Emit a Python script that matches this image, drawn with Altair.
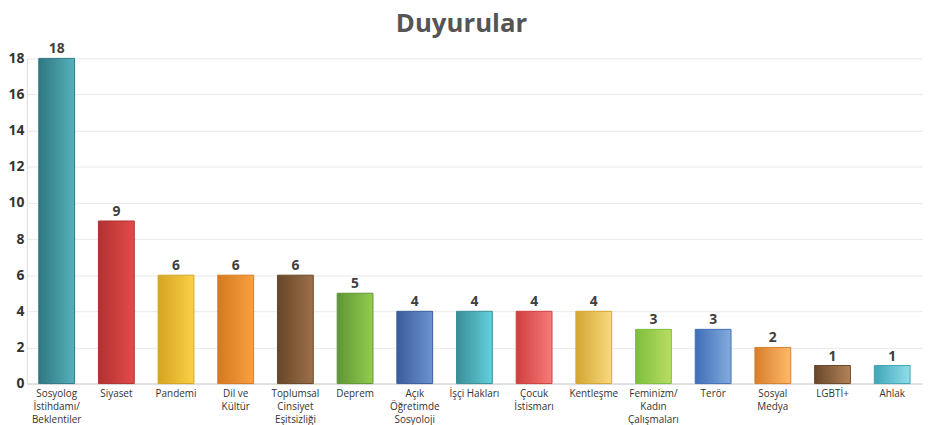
import altair as alt
import pandas as pd

categories = [
    "Sosyolog|İstihdamı/|Beklentiler", "Siyaset", "Pandemi", "Dil ve|Kültür",
    "Toplumsal|Cinsiyet|Eşitsizliği", "Deprem", "Açık|Öğretimde|Sosyoloji",
    "İşçi Hakları", "Çocuk|İstismarı", "Kentleşme", "Feminizm/|Kadın|Çalışmaları",
    "Terör", "Sosyal|Medya", "LGBTİ+", "Ahlak",
]
values = [18, 9, 6, 6, 6, 5, 4, 4, 4, 4, 3, 3, 2, 1, 1]
dark = ["#2F7780", "#B03232", "#D6A422", "#D4791F", "#674629", "#5E9535",
        "#385D99", "#3A8E98", "#CF3E3E", "#D1A631", "#7DBE3D", "#3F6EB8",
        "#D67E2C", "#6A4729", "#3FA6B6"]
light = ["#55B1BC", "#E44B48", "#FAD145", "#F9A141", "#9C7049", "#92CD4F",
         "#6F93D2", "#62D1DD", "#F67C7A", "#FAD97E", "#BADD62", "#84ABDD",
         "#FFBA6A", "#B3835A", "#92DDEA"]

df = pd.DataFrame({"cat": categories, "val": values})

xs = alt.X("cat:N", sort=categories,
           scale=alt.Scale(domain=categories, paddingInner=0.4, paddingOuter=0.2),
           axis=alt.Axis(title=None, labelAngle=0, labelExpr="split(datum.label, '|')",
                         labelFontSize=10, labelColor="#333333", labelFont="Open Sans",
                         labelLineHeight=13, labelPadding=5, ticks=False,
                         domainColor="#cccccc", labelBaseline="top"))
ys = alt.Y("val:Q", scale=alt.Scale(domain=[0, 18], nice=False),
           axis=alt.Axis(title=None, values=list(range(0, 19, 2)), labelFontSize=14,
                         labelFontWeight="bold", labelColor="#333333", labelFont="Open Sans",
                         ticks=False, labelPadding=3, domainColor="#dddddd",
                         gridColor="#e9e9e9"))

base = alt.Chart(df)
layers = []
for c, d, l in zip(categories, dark, light):
    grad = alt.Gradient(gradient="linear", x1=0, x2=1, y1=0, y2=0,
                        stops=[alt.GradientStop(color=d, offset=0),
                               alt.GradientStop(color=l, offset=1)])
    layers.append(
        base.transform_filter(alt.datum.cat == c)
        .mark_bar(fill=grad, stroke=d, strokeWidth=1)
        .encode(x=xs, y=ys)
    )

text = base.mark_text(dy=-9, fontSize=14, fontWeight="bold", color="#404040",
                      font="Open Sans").encode(x=xs, y=ys, text="val:Q")

chart = alt.layer(*layers, text).properties(
    width=903, height=328,
    title=alt.TitleParams("Duyurular", fontSize=26, fontWeight="bold", color="#555555",
                          font="Open Sans", anchor="middle", dx=-13, offset=6),
    autosize=alt.AutoSizeParams(type="none"),
    padding={"left": 19, "top": 49, "right": 2, "bottom": 45},
).configure_view(stroke=None)

chart.save("out.html", embed_options={"renderer": "svg", "actions": False})
